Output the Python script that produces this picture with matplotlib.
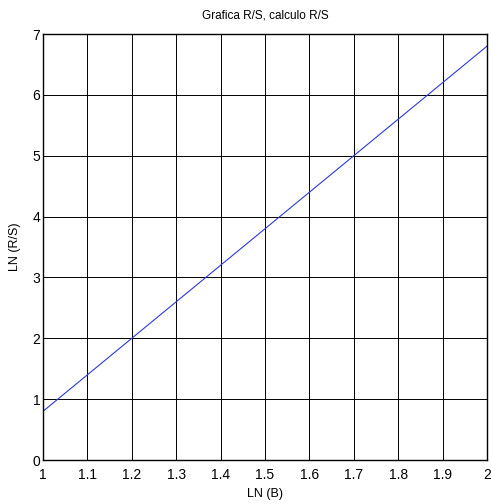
import matplotlib
matplotlib.use("Agg")
import matplotlib.pyplot as plt
import numpy as np

x_vals = [1.0, 2.0]
y_vals = [0.8, 6.8]
x_ticks = [1, 1.1, 1.2, 1.3, 1.4, 1.5, 1.6, 1.7, 1.8, 1.9, 2]
x_tick_labels = ["1", "1.1", "1.2", "1.3", "1.4", "1.5", "1.6", "1.7", "1.8", "1.9", "2"]
y_ticks = [0, 1, 2, 3, 4, 5, 6, 7]

plt.rcParams['font.family'] = ['Liberation Sans', 'DejaVu Sans']

fig = plt.figure(figsize=(4.91, 5.04), dpi=100)
ax = fig.add_axes([43/491, (504-460)/504, (487-43)/491, (460-34)/504])
ax.plot(x_vals, y_vals, color='#2b3bd6', linewidth=0.8)
ax.set_xlim(1, 2)
ax.set_ylim(0, 7)
ax.set_xticks(x_ticks)
ax.set_xticklabels(x_tick_labels)
ax.set_yticks(y_ticks)
ax.grid(True, color='black', linewidth=0.7, linestyle='-')
ax.tick_params(direction='in', length=3, labelsize=10, width=0.7)
ax.tick_params(axis='x', pad=6)
ax.tick_params(axis='y', pad=2)
for s in ax.spines.values():
    s.set_linewidth(1.0)
ax.set_title("Grafica R/S, calculo R/S", fontsize=8.5, pad=11)
ax.set_xlabel("LN (B)", fontsize=9, labelpad=4)
ax.set_ylabel("LN (R/S)", fontsize=9, labelpad=8)
fig.savefig("out.png", dpi=100)
